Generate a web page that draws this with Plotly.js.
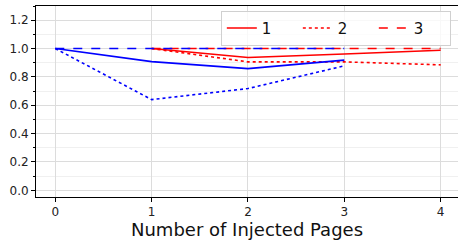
<!DOCTYPE html>
<html><head><meta charset="utf-8">
<script src="https://cdn.plot.ly/plotly-3.0.1.min.js"></script>
<style>html,body{margin:0;padding:0;overflow:hidden;background:#fff}</style>
</head><body><div id="chart" style="width:458px;height:242px"></div>
<script>
const blueX = [0, 1, 2, 3];
const redX = [1, 2, 3, 4];
const blue1 = [1.0, 0.908, 0.858, 0.918];
const blue2 = [1.0, 0.64, 0.718, 0.878];
const blue3 = [1.0, 1.0, 1.0, 1.0];
const red1 = [1.0, 0.937, 0.962, 0.988];
const red2 = [1.0, 0.906, 0.906, 0.885];
const red3 = [1.0, 1.0, 1.0, 1.0];
const legendNames = ['1', '2', '3'];
const xTicks = [0, 1, 2, 3, 4];

const dashes = ['solid', 'dot', 'dash'];
const traces = [];
[red1, red2, red3].forEach((ys, i) => traces.push({
  x: redX, y: ys, type: 'scatter', mode: 'lines', name: legendNames[i],
  line: {color: '#ff0000', width: 1.6, dash: dashes[i]}
}));
[blue1, blue2, blue3].forEach((ys, i) => traces.push({
  x: blueX, y: ys, type: 'scatter', mode: 'lines', showlegend: false,
  line: {color: '#0000ff', width: 1.6, dash: dashes[i]}
}));

const layout = {
  width: 458, height: 242,
  margin: {l: 36, r: 0, t: 6, b: 45},
  paper_bgcolor: '#fff', plot_bgcolor: '#fff',
  font: {family: 'DejaVu Sans', size: 12, color: '#222'},
  showlegend: true,
  legend: {
    orientation: 'h', x: 0.983, xanchor: 'right', y: 0.975, yanchor: 'top',
    bgcolor: 'rgba(255,255,255,0.8)', bordercolor: '#d0d0d0', borderwidth: 1,
    font: {size: 15, family: 'DejaVu Sans', color: '#111'},
    entrywidth: 31, itemwidth: 30, valign: 'middle'
  },
  xaxis: {
    range: [-0.2, 4.18], tickvals: xTicks, ticktext: xTicks.map(String),
    ticks: 'outside', ticklen: 4, tickcolor: '#000',
    showgrid: true, gridcolor: '#dcdcdc', gridwidth: 1,
    showline: true, linecolor: '#000', linewidth: 1, mirror: true,
    zeroline: false,
    title: {text: 'Number of Injected Pages', font: {size: 18, family: 'DejaVu Sans', color: '#111'}, standoff: 4}
  },
  yaxis: {
    range: [-0.047, 1.3], tickvals: [0, 0.2, 0.4, 0.6, 0.8, 1.0, 1.2],
    ticktext: ['0.0', '0.2', '0.4', '0.6', '0.8', '1.0', '1.2'],
    ticks: 'outside', ticklen: 4, tickcolor: '#000',
    showgrid: true, gridcolor: '#dcdcdc', gridwidth: 1,
    minor: {dtick: 0.1, tick0: 0, ticks: 'outside', ticklen: 2, tickcolor: '#000', showgrid: true, gridcolor: '#f0f0f0', gridwidth: 1},
    showline: true, linecolor: '#000', linewidth: 1, mirror: true,
    zeroline: false
  }
};
Plotly.newPlot('chart', traces, layout, {displayModeBar: false, staticPlot: true});
</script></body></html>
